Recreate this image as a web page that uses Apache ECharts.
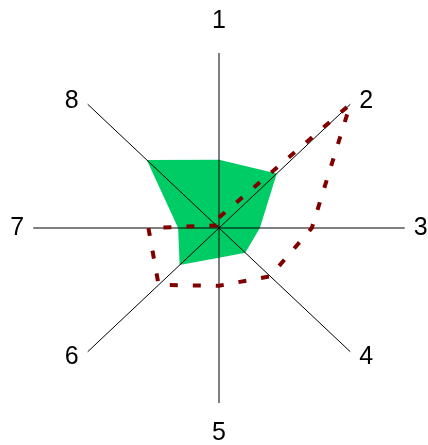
<!DOCTYPE html>
<html>
<head>
<meta charset="utf-8">
<script src="https://cdn.jsdelivr.net/npm/echarts@6/dist/echarts.min.js"></script>
<style>
html,body{margin:0;padding:0;background:#fff;}
#chart{width:428px;height:445px;}
</style>
</head>
<body>
<div id="chart"></div>
<script>
// ---- data ----
const indicators = ['1', '2', '3', '4', '5', '6', '7', '8'];
const maxValue = 100;
const greenValues = [39, 44, 22, 20, 17, 30, 22, 55];
const dashedValues = [6, 100, 50, 39, 33, 46, 38, 2];

// ---- styling ----
const labelOffsets = [[0, -32], [16, -3], [16, 0], [16, 5], [0, 30], [-16, 5], [-16, 0], [-16, -3]];

function toXY(v, i) {
  const a = i * 2 * Math.PI / indicators.length;
  return [v * Math.sin(a), v * Math.cos(a)];
}

const greenPts = greenValues.map(toXY);
const dashedPts = dashedValues.map(toXY);
dashedPts.push(dashedPts[0]);
const spokeEnds = indicators.map((n, i) => toXY(maxValue, i).concat([i]));

const chart = echarts.init(document.getElementById('chart'));
chart.setOption({
  animation: false,
  backgroundColor: '#ffffff',
  grid: { left: 33.3, right: 23.3, top: 53, bottom: 42 },
  xAxis: { type: 'value', min: -maxValue, max: maxValue, show: false },
  yAxis: { type: 'value', min: -maxValue, max: maxValue, show: false },
  series: [
    {
      type: 'custom',
      z: 1,
      silent: true,
      data: [[0, 0]],
      renderItem: function (params, api) {
        const points = greenPts.map(p => api.coord(p));
        return {
          type: 'polygon',
          shape: { points: points },
          style: { fill: '#00cc66', stroke: null }
        };
      }
    },
    {
      type: 'custom',
      z: 2,
      silent: true,
      data: spokeEnds,
      renderItem: function (params, api) {
        const c = api.coord([0, 0]);
        const e = api.coord([api.value(0), api.value(1)]);
        const idx = api.value(2);
        const off = labelOffsets[idx];
        return {
          type: 'group',
          children: [
            {
              type: 'line',
              shape: { x1: c[0], y1: c[1], x2: e[0], y2: e[1] },
              style: { stroke: '#000000', lineWidth: 1 }
            },
            {
              type: 'text',
              x: e[0] + off[0],
              y: e[1] + off[1],
              style: {
                text: indicators[idx],
                fill: '#000000',
                font: '25px "Liberation Sans", Arial, sans-serif',
                align: 'center',
                verticalAlign: 'middle'
              }
            }
          ]
        };
      }
    },
    {
      type: 'line',
      z: 3,
      silent: true,
      data: dashedPts,
      showSymbol: false,
      symbol: 'none',
      lineStyle: { color: '#800000', width: 4, type: [8, 15] }
    }
  ]
});
</script>
</body>
</html>
